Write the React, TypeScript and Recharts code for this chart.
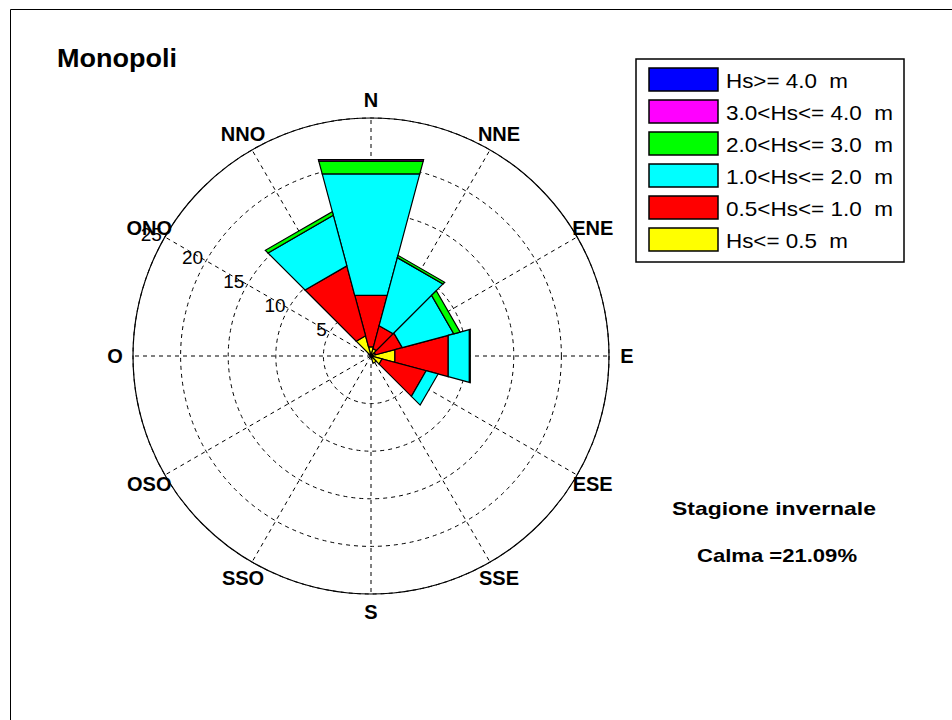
import { RadialBarChart, RadialBar, PolarAngleAxis, PolarRadiusAxis, PolarGrid } from "recharts";

// Direction sectors (30° each, clockwise from north, Italian labels)
const directions = ["N", "NNE", "ENE", "E", "ESE", "SSE", "S", "SSO", "OSO", "O", "ONO", "NNO"];

// Frequency (%) per wave-height class
const hsUpTo05 = [1.0, 0.8, 0.5, 2.6, 1.2, 0.8, 0, 0, 0, 0, 0, 2.2];
const hs05to10 = [5.6, 2.5, 2.9, 5.8, 4.8, 0, 0, 0, 0, 0, 0, 7.6];
const hs10to20 = [13.2, 7.4, 5.6, 2.3, 1.3, 0, 0, 0, 0, 0, 0, 5.5];
const hs20to30 = [1.4, 0.25, 0.7, 0.1, 0, 0, 0, 0, 0, 0, 0, 0.4];
const hs30to40 = [0.15, 0, 0, 0, 0, 0, 0, 0, 0, 0, 0, 0];
const hsOver40 = [0, 0, 0, 0, 0, 0, 0, 0, 0, 0, 0, 0];

const radiusTicks = [5, 10, 15, 20, 25];

const title = "Monopoli";
const season = "Stagione invernale";
const calm = "Calma =21.09%";

// stacking order: innermost first
const classes = [
  { key: "hs05", label: "Hs<= 0.5  m", color: "#FFFF00", values: hsUpTo05 },
  { key: "hs10", label: "0.5<Hs<= 1.0  m", color: "#FF0000", values: hs05to10 },
  { key: "hs20", label: "1.0<Hs<= 2.0  m", color: "#00FFFF", values: hs10to20 },
  { key: "hs30", label: "2.0<Hs<= 3.0  m", color: "#00FF00", values: hs20to30 },
  { key: "hs40", label: "3.0<Hs<= 4.0  m", color: "#FF00FF", values: hs30to40 },
  { key: "hs99", label: "Hs>= 4.0  m", color: "#0000FF", values: hsOver40 },
];

const data = directions.map((dir, i) => {
  const row: Record<string, string | number> = { dir };
  classes.forEach((c) => (row[c.key] = c.values[i]));
  return row;
});

const CX = 371;
const CY = 356;
const R = 238;
const RAD = Math.PI / 180;
const FONT = "'Liberation Sans', Arial, sans-serif";

// straight-edged wedge, centred on the direction tick (recharts puts the
// band's edge on the tick, so shift by half the sector)
const wedge = (p: any) => {
  const { cx, cy, innerRadius, outerRadius, startAngle, endAngle, fill } = p;
  if (!(outerRadius - innerRadius > 0.01)) return <g />;
  const half = Math.abs(endAngle - startAngle) / 2;
  const mid = Math.min(startAngle, endAngle);
  const a0 = mid - half;
  const a1 = mid + half;
  const pt = (r: number, a: number) =>
    `${cx + r * Math.cos(-a * RAD)},${cy + r * Math.sin(-a * RAD)}`;
  const pts = [pt(innerRadius, a0), pt(outerRadius, a0), pt(outerRadius, a1), pt(innerRadius, a1)].join(" ");
  return <polygon points={pts} fill={fill} stroke="#000" strokeWidth={1.2} strokeLinejoin="miter" />;
};

const DirTick = (p: any) => {
  const a = p.payload.coordinate;
  const x = CX + 256 * Math.cos(-a * RAD);
  const y = CY + 256 * Math.sin(-a * RAD);
  return (
    <text x={x} y={y} textAnchor="middle" dominantBaseline="central" fontFamily={FONT} fontWeight="bold" fontSize={20} fill="#000">
      {p.payload.value}
    </text>
  );
};

const RadiusTick = (p: any) => (
  <text x={p.x - 3} y={p.y - 3} textAnchor="end" dominantBaseline="central" fontFamily={FONT} fontSize={19} fill="#000">
    {p.payload.value}
  </text>
);

const legendRows = [...classes].reverse();

export default function App() {
  return (
    <div style={{ position: "absolute", left: 0, top: 0, width: 952, height: 720, background: "#fff" }}>
      <RadialBarChart
        width={952}
        height={720}
        cx={CX}
        cy={CY}
        innerRadius={0}
        outerRadius={R}
        startAngle={90}
        endAngle={-270}
        layout="centric"
        data={data}
        barCategoryGap={0}
        barGap={0}
        margin={{ top: 0, right: 0, bottom: 0, left: 0 }}
      >
        <PolarGrid gridType="circle" stroke="#000" strokeDasharray="4 4" />
        <PolarAngleAxis dataKey="dir" type="category" tick={DirTick} tickLine={false} axisLine={false} />
        <PolarRadiusAxis
          type="number"
          domain={[0, 25]}
          ticks={radiusTicks}
          angle={150}
          tick={RadiusTick}
          axisLine={false}
          tickLine={false}
        />
        {classes.map((c) => (
          <RadialBar key={c.key} dataKey={c.key} stackId="hs" fill={c.color} shape={wedge} isAnimationActive={false} />
        ))}
      </RadialBarChart>
      <svg width={952} height={720} style={{ position: "absolute", left: 0, top: 0, pointerEvents: "none" }}>
        <path d="M10.5,720 V9.5 H952" fill="none" stroke="#000" strokeWidth={1} />
        <circle cx={CX} cy={CY} r={R} fill="none" stroke="#000" strokeWidth={1.2} />
        <text x={57} y={67} fontFamily={FONT} fontWeight="bold" fontSize={25} textLength={120} lengthAdjust="spacingAndGlyphs">
          {title}
        </text>
        <rect x={636} y={59} width={268} height={203} fill="#fff" stroke="#000" strokeWidth={1.5} />
        {legendRows.map((c, i) => (
          <g key={c.key}>
            <rect x={649} y={68 + i * 32} width={69} height={23} fill={c.color} stroke="#000" strokeWidth={1.5} />
            <text
              x={726}
              y={88 + i * 32}
              fontFamily={FONT}
              fontSize={21}
              style={{ whiteSpace: "pre" }}
              textLength={c.label.length > 12 ? 167 : 122}
              lengthAdjust="spacingAndGlyphs"
            >
              {c.label}
            </text>
          </g>
        ))}
        <text x={672} y={515} fontFamily={FONT} fontWeight="bold" fontSize={19} textLength={204} lengthAdjust="spacingAndGlyphs">
          {season}
        </text>
        <text x={697} y={562} fontFamily={FONT} fontWeight="bold" fontSize={19} textLength={160} lengthAdjust="spacingAndGlyphs">
          {calm}
        </text>
      </svg>
    </div>
  );
}
